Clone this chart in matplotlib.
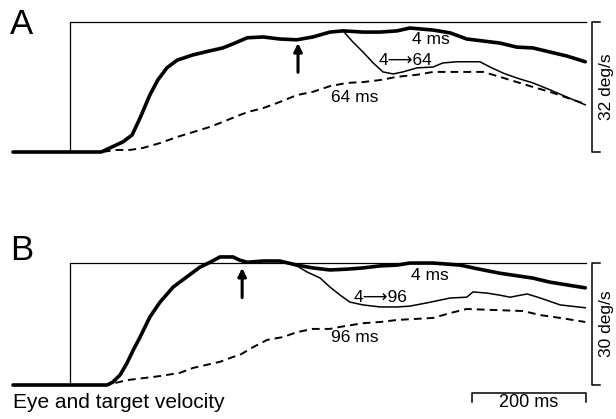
"""
Eye and target velocity, two panels (A, B): 4 ms trace, switched trace and
64/96 ms trace against a step of target velocity.
"""

import matplotlib.pyplot as plt

plt.rcParams["font.family"] = ["Liberation Sans", "DejaVu Sans"]

# ---- panel A (step 32 deg/s) ----
a_fast_t = [-100, 55, 70, 93, 109, 123, 140, 154, 170, 188, 216, 246, 268, 286,
            311, 339, 368, 398, 426, 456, 479, 514, 544, 574, 596, 637, 667,
            696, 725, 754, 784, 812, 842, 872, 904]
a_fast_v = [0, 0, 1.0, 2.5, 4.2, 8.4, 14.0, 17.7, 20.7, 22.6, 23.9, 24.9, 25.6,
            26.6, 28.1, 28.3, 27.8, 27.6, 28.3, 29.5, 29.8, 29.5, 29.5, 29.8,
            30.5, 30.0, 29.3, 27.8, 27.3, 26.8, 25.8, 25.6, 24.6, 23.6, 22.2]
a_split = 21  # 4->64 trace follows the 4 ms trace up to here
a_switch_t = [496, 514, 532, 549, 567, 584, 609, 637, 654, 679, 719, 737, 760,
              784, 812, 842, 872, 904]
a_switch_v = [27.1, 24.6, 21.9, 19.7, 19.2, 19.7, 20.7, 20.9, 21.9, 22.2, 22.2,
              20.9, 19.4, 18.2, 17.0, 15.3, 13.5, 11.6]
a_slow_t = [-100, 55, 82, 105, 128, 158, 188, 216, 246, 268, 298, 311, 339, 368,
            398, 426, 456, 486, 514, 544, 574, 609, 637, 696, 725, 754, 784,
            812, 842, 904]
a_slow_v = [0, 0, 0.5, 0.5, 1.0, 2.2, 3.7, 4.9, 6.2, 7.4, 9.1, 9.8, 10.8, 12.3,
            14.0, 14.8, 16.2, 17.0, 17.2, 17.7, 18.5, 19.0, 19.7, 19.7, 19.7,
            18.5, 17.2, 16.0, 14.8, 11.8]
a_target_t = [-100, 0, 0, 905]
a_target_v = [0, 0, 32, 32]

# ---- panel B (step 30 deg/s) ----
b_fast_t = [-100, 65, 75, 88, 100, 111, 123, 140, 158, 181, 205, 228, 246, 263,
            286, 298, 311, 339, 368, 398, 426, 456, 486, 514, 544, 574, 596,
            637, 684, 725, 754, 812, 842, 904]
b_fast_v = [0, 0, 0.7, 2.5, 5.4, 8.6, 11.8, 16.7, 20.4, 24.1, 26.6, 29.0, 30.2,
            31.5, 31.5, 30.7, 30.2, 30.5, 30.5, 29.5, 28.8, 28.3, 28.5, 28.8,
            29.3, 29.5, 30.0, 30.0, 29.5, 28.3, 27.5, 26.3, 25.3, 23.9]
b_split = 19  # 4->96 trace follows the 4 ms trace up to here
b_switch_t = [398, 416, 439, 456, 474, 491, 514, 544, 574, 596, 626, 667, 696,
              707, 732, 754, 772, 802, 825, 860, 904]
b_switch_v = [29.3, 27.8, 26.3, 24.1, 22.1, 20.4, 19.7, 19.2, 19.2, 19.4, 20.2,
              21.4, 21.6, 22.9, 22.6, 22.1, 21.6, 22.4, 21.4, 19.7, 19.0]
b_slow_t = [-100, 65, 100, 158, 193, 216, 263, 286, 298, 321, 346, 374, 398,
            426, 456, 474, 514, 544, 574, 637, 667, 696, 754, 795, 825, 860, 904]
b_slow_v = [0, 0, 1.2, 2.2, 3.0, 4.2, 5.7, 6.9, 7.4, 9.3, 11.1, 11.8, 13.0,
            13.8, 13.8, 14.3, 15.2, 15.5, 16.0, 16.5, 17.7, 18.7, 18.4, 18.2,
            17.2, 16.5, 15.5]
b_target_t = [-100, 0, 0, 905]
b_target_v = [0, 0, 30, 30]

SCALE_MS = 200

# layout in output pixels
W, H = 616, 419
PX_PER_MS = 0.57
STEP_PX = 70
PX_PER_DEG = 4.065


def make_axes(fig, top_px, bottom_px, base_px):
    ax = fig.add_axes([0, 1 - bottom_px / H, 1, (bottom_px - top_px) / H])
    ax.set_xlim(-STEP_PX / PX_PER_MS, (W - STEP_PX) / PX_PER_MS)
    ax.set_ylim((base_px - bottom_px) / PX_PER_DEG, (base_px - top_px) / PX_PER_DEG)
    ax.axis("off")
    return ax


def draw_panel(ax, target_t, target_v, fast_t, fast_v, split, sw_t, sw_v,
               slow_t, slow_v):
    ax.plot(target_t, target_v, color="black", lw=0.9)
    ax.plot(slow_t, slow_v, color="black", lw=1.4, linestyle=(0, (4, 2.6)))
    ax.plot(fast_t[:split] + sw_t, fast_v[:split] + sw_v, color="black",
            lw=1.1, solid_joinstyle="round")
    ax.plot(fast_t, fast_v, color="black", lw=2.6, solid_capstyle="round",
            solid_joinstyle="round")
    step = target_v[-1]
    ax.plot([930, 916, 916, 930], [step, step, 0, 0], color="black", lw=1.1)
    ax.text(942, step / 2, f"{step} deg/s", rotation=90, ha="center",
            va="center", fontsize=12.5)


fig = plt.figure(figsize=(W / 100, H / 100), dpi=100)

ax_a = make_axes(fig, 0, 210, 152)
draw_panel(ax_a, a_target_t, a_target_v, a_fast_t, a_fast_v, a_split,
           a_switch_t, a_switch_v, a_slow_t, a_slow_v)
ax_a.annotate("", xy=(400, 26.8), xytext=(400, 19.6),
              arrowprops=dict(arrowstyle="-|>", lw=2.2, color="black",
                              mutation_scale=12, shrinkA=0, shrinkB=0))
ax_a.text(633, 27.6, "4 ms", ha="center", va="center", fontsize=12.5)
ax_a.text(588, 22.6, "4\u27f664", ha="center", va="center", fontsize=12.5)
ax_a.text(500, 13.5, "64 ms", ha="center", va="center", fontsize=12.5)

ax_b = make_axes(fig, 210, 419, 385)
draw_panel(ax_b, b_target_t, b_target_v, b_fast_t, b_fast_v, b_split,
           b_switch_t, b_switch_v, b_slow_t, b_slow_v)
ax_b.annotate("", xy=(302, 28.8), xytext=(302, 21.5),
              arrowprops=dict(arrowstyle="-|>", lw=2.2, color="black",
                              mutation_scale=12, shrinkA=0, shrinkB=0))
ax_b.text(632, 27.0, "4 ms", ha="center", va="center", fontsize=12.5)
ax_b.text(544, 21.6, "4\u27f696", ha="center", va="center", fontsize=12.5)
ax_b.text(500, 11.6, "96 ms", ha="center", va="center", fontsize=12.5)

# time scale bar
bar_x0 = 705
ax_b.plot([bar_x0, bar_x0, bar_x0 + SCALE_MS, bar_x0 + SCALE_MS],
          [-4.2, -2.0, -2.0, -4.2], color="black", lw=1.1)
ax_b.text(bar_x0 + SCALE_MS / 2, -4.4, f"{SCALE_MS} ms", ha="center",
          va="center", fontsize=13)
ax_b.text(-100, -4.4, "Eye and target velocity", ha="left", va="center",
          fontsize=15)

fig.text(21.5 / W, 1 - 24 / H, "A", ha="center", va="center", fontsize=25)
fig.text(22 / W, 1 - 250 / H, "B", ha="center", va="center", fontsize=25)

fig.savefig("out.png", dpi=100)
